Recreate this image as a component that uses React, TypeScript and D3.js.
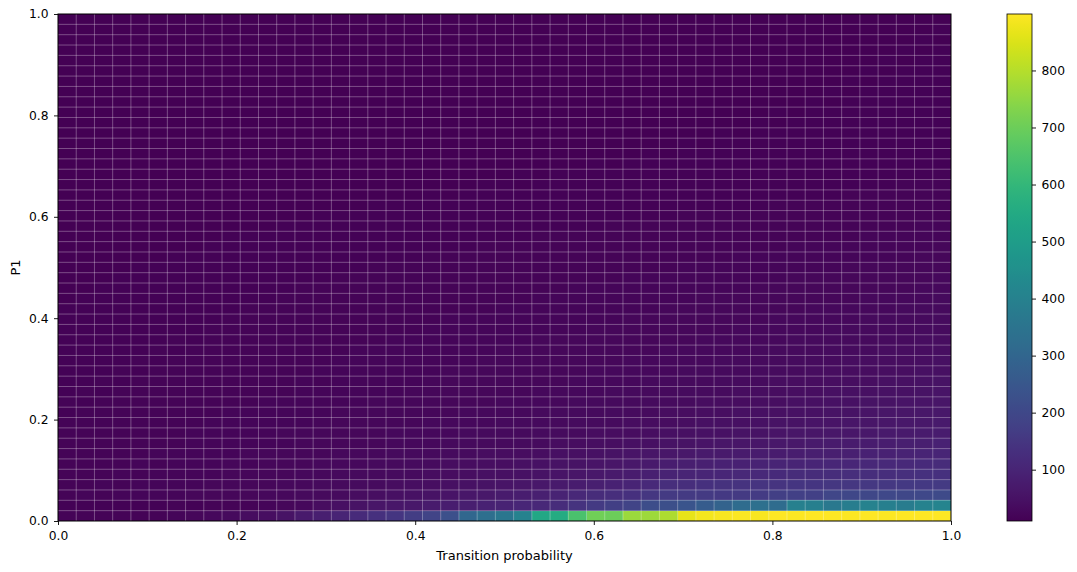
import React, { useRef, useEffect } from "react";
import * as d3 from "d3";

const xTickValues = [0, 0.2, 0.4, 0.6, 0.8, 1.0];
const yTickValues = [0, 0.2, 0.4, 0.6, 0.8, 1.0];
const colorTickValues = [100, 200, 300, 400, 500, 600, 700, 800];
const xLabel = "Transition probability";
const yLabel = "P1";

// counts per bin, 49 x 49 bins; row index 0 = lowest P1 bin
// rows 0-7: where the mass sits
const rowsNearZero = [
  [18,17,19,18,20,19,21,24,28,33, 38,44,55,70,85,100,117,132,148,168, 190,228,305,330,360,402,538,552,645,705, 700,765,770,790,865,885,892,895,890,897, 893,899,896,894,898,895,897,899,898],
  [14,15,14,16,15,16,17,16,18,19, 20,22,25,30,38,45,55,60,64,68, 74,82,86,90,95,106,110,124,140,160, 175,188,215,222,240,265,290,320,335,322, 395,390,365,385,400,390,380,400,410],
  [20,21,20,22,21,23,22,24,25,26, 27,29,30,32,34,36,39,42,45,49, 53,58,63,68,74,80,88,96,108,118, 125,135,150,160,160,162,158,160,165,175, 180,178,195,198,200,202,198,204,208],
  [20,19,21,20,22,21,23,22,24,25, 26,27,28,30,31,33,35,37,39,42, 44,47,50,54,58,62,67,72,78,85, 92,100,112,125,128,132,136,140,142,145, 147,148,150,152,153,155,156,158,160],
  [19,20,19,21,20,22,21,23,22,24, 25,26,27,28,29,31,32,34,35,37, 39,41,43,46,48,51,54,58,62,66, 72,78,88,95,98,102,105,108,112,115, 118,120,122,125,126,128,130,132,134],
  [19,18,20,19,21,20,22,21,23,24, 23,25,26,27,28,29,30,32,33,35, 36,38,40,42,44,46,49,52,55,58, 62,66,72,80,85,88,90,92,95,97, 100,102,105,107,110,112,114,116,118],
  [18,19,19,20,20,21,21,22,22,23, 24,24,25,26,27,28,29,30,31,32, 33,35,36,38,40,41,43,45,48,50, 53,56,60,64,67,70,72,75,77,79, 81,84,86,88,90,93,95,98,102],
  [18,19,18,19,20,19,20,21,21,22, 22,23,23,24,25,25,26,27,28,29, 30,31,32,33,34,36,37,38,40,42, 44,46,48,52,55,57,60,62,64,66, 68,70,73,75,78,80,83,86,90],
];

// rows 8-27
const rowsMiddle = [
  [18,17,18,19,19,20,20,21,22,22, 23,23,24,24,25,26,26,27,28,28, 29,30,31,32,33,34,35,36,37,38, 40,41,43,45,47,49,51,53,55,57, 59,61,63,65,67,70,72,75,78],
  [17,18,17,18,19,18,19,20,21,21, 22,22,23,23,24,25,25,26,26,27, 28,29,29,30,31,32,33,34,35,36, 37,38,40,41,43,45,46,48,50,52, 54,56,58,60,62,64,66,69,72],
  [16,17,18,17,18,19,18,19,20,21, 21,22,22,23,23,24,24,25,25,26, 27,27,28,29,30,30,31,32,33,34, 35,36,37,39,40,42,43,45,46,48, 50,51,53,55,57,59,61,63,66],
  [17,16,17,18,17,18,19,18,19,20, 20,21,21,22,22,23,23,24,24,25, 25,26,27,27,28,29,29,30,31,32, 33,34,35,36,37,38,40,41,43,44, 46,47,49,51,52,54,56,58,61],
  [16,17,16,17,18,17,18,19,18,19, 20,19,20,21,21,22,22,23,23,24, 24,25,25,26,27,27,28,28,29,30, 31,32,33,34,35,36,37,38,39,41, 42,43,45,46,48,49,51,53,56],
  [16,16,17,16,17,18,17,18,19,18, 19,20,20,21,20,21,22,22,23,23, 24,24,25,25,26,26,27,27,28,29, 29,30,31,32,33,34,35,36,37,38, 39,40,42,43,44,46,47,49,52],
  [15,16,16,17,16,17,18,17,18,19, 18,19,20,20,21,21,21,22,22,23, 23,24,24,25,25,26,26,27,27,28, 28,29,30,30,31,32,33,34,35,36, 37,38,39,40,41,43,44,46,48],
  [15,15,16,16,17,16,17,17,18,18, 19,18,19,20,20,21,21,21,22,22, 23,23,23,24,24,25,25,26,26,27, 27,28,28,29,30,30,31,32,33,34, 35,36,37,38,39,40,41,43,45],
  [15,16,15,16,16,17,16,17,18,17, 18,19,19,19,20,20,21,21,21,22, 22,22,23,23,24,24,24,25,25,26, 26,27,27,28,28,29,30,30,31,32, 33,34,35,36,37,38,39,40,42],
  [14,15,15,16,15,16,17,16,17,18, 17,18,18,19,19,20,20,20,21,21, 21,22,22,22,23,23,24,24,24,25, 25,26,26,27,27,28,28,29,30,30, 31,32,33,34,34,35,36,38,39],
  [14,15,14,15,16,15,16,16,17,17, 17,18,18,18,19,19,19,20,20,20, 21,21,21,22,22,22,23,23,23,24, 24,25,25,26,26,27,27,28,28,29, 29,30,31,32,32,33,34,35,37],
  [14,14,15,15,15,16,15,16,16,17, 17,17,18,18,18,19,19,19,20,20, 20,21,21,21,21,22,22,22,23,23, 23,24,24,25,25,26,26,27,27,28, 28,29,29,30,31,31,32,33,35],
  [14,14,14,15,15,15,16,15,16,16, 17,17,17,17,18,18,18,19,19,19, 19,20,20,20,21,21,21,22,22,22, 23,23,23,24,24,25,25,26,26,27, 27,28,28,29,29,30,31,31,33],
  [13,14,14,14,15,15,15,15,16,16, 16,16,17,17,17,18,18,18,18,19, 19,19,20,20,20,20,21,21,21,22, 22,22,23,23,23,24,24,25,25,26, 26,26,27,27,28,28,29,30,31],
  [13,13,14,14,14,15,14,15,15,16, 16,16,16,17,17,17,17,18,18,18, 18,19,19,19,19,20,20,20,21,21, 21,21,22,22,22,23,23,23,24,24, 25,25,26,26,26,27,27,28,29],
  [13,13,13,14,14,14,14,15,15,15, 15,16,16,16,16,17,17,17,17,18, 18,18,18,19,19,19,19,20,20,20, 20,21,21,21,22,22,22,23,23,23, 24,24,24,25,25,26,26,27,28],
  [12,13,13,13,14,14,14,14,15,15, 15,15,15,16,16,16,16,17,17,17, 17,17,18,18,18,18,19,19,19,19, 20,20,20,20,21,21,21,22,22,22, 23,23,23,24,24,24,25,25,26],
  [12,12,13,13,13,13,14,14,14,14, 15,15,15,15,15,16,16,16,16,16, 17,17,17,17,18,18,18,18,18,19, 19,19,19,20,20,20,20,21,21,21, 22,22,22,22,23,23,23,24,25],
  [12,12,12,13,13,13,13,13,14,14, 14,14,14,15,15,15,15,15,16,16, 16,16,16,17,17,17,17,17,18,18, 18,18,18,19,19,19,19,20,20,20, 21,21,21,21,22,22,22,23,24],
  [12,12,12,12,13,13,13,13,13,14, 14,14,14,14,14,15,15,15,15,15, 16,16,16,16,16,16,17,17,17,17, 17,18,18,18,18,18,19,19,19,19, 20,20,20,20,21,21,21,22,22],
];

// rows 28-48
const rowsTop = [
  [11,12,12,12,12,12,13,13,13,13, 13,13,14,14,14,14,14,14,15,15, 15,15,15,15,16,16,16,16,16,16, 17,17,17,17,17,18,18,18,18,18, 19,19,19,19,20,20,20,21,21],
  [11,11,12,12,12,12,12,12,13,13, 13,13,13,13,14,14,14,14,14,14, 14,15,15,15,15,15,15,15,16,16, 16,16,16,16,17,17,17,17,17,17, 18,18,18,18,18,19,19,19,20],
  [11,11,11,12,12,12,12,12,12,12, 13,13,13,13,13,13,13,14,14,14, 14,14,14,14,14,15,15,15,15,15, 15,15,16,16,16,16,16,16,16,17, 17,17,17,17,17,18,18,18,19],
  [11,11,11,11,12,11,12,12,12,12, 12,12,13,13,12,13,13,13,13,13, 14,13,14,14,14,14,14,14,15,14, 15,15,15,15,15,15,16,16,16,16, 16,16,16,17,17,17,17,17,18],
  [11,10,11,11,11,12,11,12,12,12, 12,12,12,12,13,12,13,13,13,13, 13,13,13,14,14,13,14,14,14,14, 14,15,14,15,15,15,15,15,15,16, 15,16,16,16,16,16,17,17,17],
  [10,11,11,11,11,11,11,12,11,12, 12,12,12,12,12,12,13,12,13,13, 13,13,13,13,13,14,13,14,14,14, 14,14,14,14,15,14,15,15,15,15, 15,15,15,16,16,16,16,16,17],
  [10,10,11,11,11,11,11,11,11,12, 11,12,12,12,12,12,12,12,12,13, 12,13,13,13,13,13,13,13,13,14, 13,14,14,14,14,14,14,14,14,15, 14,15,15,15,15,15,15,16,16],
  [10,11,10,11,11,11,11,11,11,11, 12,11,12,12,12,12,12,12,12,12, 12,13,12,13,13,13,13,13,13,13, 13,13,14,13,14,14,14,14,14,14, 14,14,15,14,15,15,15,15,15],
  [10,10,11,10,11,11,11,11,11,11, 11,11,12,11,12,12,12,12,12,12, 12,12,12,13,12,13,13,13,13,13, 13,13,13,13,14,13,14,14,14,14, 14,14,14,14,15,14,15,15,15],
  [10,10,10,11,10,11,11,11,11,11, 11,11,11,12,11,12,12,12,12,12, 12,12,12,12,12,13,12,13,13,13, 13,13,13,13,13,13,14,13,14,14, 14,14,14,14,14,14,15,14,15],
  [10,10,10,10,11,10,11,11,11,11, 11,11,11,11,12,11,12,12,12,12, 12,12,12,12,12,12,12,13,12,13, 13,13,13,13,13,13,13,13,14,13, 14,14,14,14,14,14,14,14,15],
  [10,10,10,10,10,11,10,11,11,11, 11,11,11,11,11,12,11,12,12,12, 12,12,12,12,12,12,12,12,13,12, 13,13,13,13,13,13,13,13,13,14, 13,14,14,14,14,14,14,14,14],
  [10,10,10,10,10,10,11,10,11,11, 11,11,11,11,11,11,12,11,12,12, 12,12,12,12,12,12,12,12,12,13, 12,13,13,13,13,13,13,13,13,13, 13,14,13,14,14,14,14,14,14],
  [10,10,10,10,10,10,10,11,10,11, 11,11,11,11,11,11,11,12,11,12, 12,12,12,12,12,12,12,12,12,12, 13,12,13,13,13,13,13,13,13,13, 13,13,14,13,14,14,14,14,14],
  [10,10,10,10,10,10,10,10,11,10, 11,11,11,11,11,11,11,11,12,11, 12,12,12,12,12,12,12,12,12,12, 12,13,12,13,13,13,13,13,13,13, 13,13,13,14,13,14,14,14,14],
  [10,10,10,10,10,10,10,10,10,11, 10,11,11,11,11,11,11,11,11,12, 11,12,12,12,12,12,12,12,12,12, 12,12,13,12,13,13,13,13,13,13, 13,13,13,13,14,13,14,14,14],
  [10,10,10,10,10,10,10,10,10,10, 11,10,11,11,11,11,11,11,11,11, 12,11,12,12,12,12,12,12,12,12, 12,12,12,13,12,13,13,13,13,13, 13,13,13,13,13,14,13,14,14],
  [10,10,10,10,10,10,10,10,10,10, 10,11,10,11,11,11,11,11,11,11, 11,12,11,12,12,12,12,12,12,12, 12,12,12,12,13,12,13,13,13,13, 13,13,13,13,13,13,14,13,14],
  [10,10,10,10,10,10,10,10,10,10, 10,10,11,10,11,11,11,11,11,11, 11,11,12,11,12,12,12,12,12,12, 12,12,12,12,12,13,12,13,13,13, 13,13,13,13,13,13,13,14,13],
  [10,10,10,10,10,10,10,10,10,10, 10,10,10,11,10,11,11,11,11,11, 11,11,11,12,11,12,12,12,12,12, 12,12,12,12,12,12,13,12,13,13, 13,13,13,13,13,13,13,13,14],
  [10,10,10,10,10,10,10,10,10,10, 10,10,10,10,11,10,11,11,11,11, 11,11,11,11,12,11,12,12,12,12, 12,12,12,12,12,12,12,13,12,13, 13,13,13,13,13,13,13,13,13],
];

const counts: number[][] = [...rowsNearZero, ...rowsMiddle, ...rowsTop];

const width = 1077;
const height = 572;
const plot = { left: 58, right: 951, top: 14, bottom: 521 };
const cbar = { left: 1007, width: 25 };
const font = "DejaVu Sans, sans-serif";
const tickFontSize = 12.3;
const labelFontSize = 13;

const App = () => {
  const svgRef = useRef<SVGSVGElement>(null);

  useEffect(() => {
    drawHeatmap();
  }, []);

  const drawHeatmap = () => {
    const svg = d3.select(svgRef.current);
    svg.selectAll("*").remove();

    const nRows = counts.length;
    const nCols = counts[0].length;

    const x = d3.scaleLinear().domain([0, 1]).range([plot.left, plot.right]);
    const y = d3.scaleLinear().domain([0, 1]).range([plot.bottom, plot.top]);
    const [vmin, vmax] = d3.extent(counts.flat()) as [number, number];
    const color = d3.scaleSequential(d3.interpolateViridis).domain([vmin, vmax]);

    const cells = counts.flatMap((row, r) => row.map((v, c) => ({ r, c, v })));

    // cells
    svg.append("g")
      .selectAll("rect")
      .data(cells)
      .join("rect")
      .attr("x", d => x(d.c / nCols))
      .attr("y", d => y((d.r + 1) / nRows))
      .attr("width", d => x((d.c + 1) / nCols) - x(d.c / nCols))
      .attr("height", d => y(d.r / nRows) - y((d.r + 1) / nRows))
      .attr("fill", d => color(d.v))
      .attr("shape-rendering", "crispEdges");

    // cell edges
    const edges = svg.append("g")
      .attr("stroke", "#fff")
      .attr("stroke-opacity", 0.3)
      .attr("stroke-width", 1);
    edges.selectAll(".vx")
      .data(d3.range(1, nCols))
      .join("line")
      .attr("x1", i => x(i / nCols)).attr("x2", i => x(i / nCols))
      .attr("y1", plot.top).attr("y2", plot.bottom);
    edges.selectAll(".hy")
      .data(d3.range(1, nRows))
      .join("line")
      .attr("y1", i => y(i / nRows)).attr("y2", i => y(i / nRows))
      .attr("x1", plot.left).attr("x2", plot.right);

    // frame
    svg.append("rect")
      .attr("x", plot.left).attr("y", plot.top)
      .attr("width", plot.right - plot.left).attr("height", plot.bottom - plot.top)
      .attr("fill", "none").attr("stroke", "#000").attr("stroke-width", 1);

    const styleAxis = (g) => {
      g.select(".domain").remove();
      g.attr("font-family", font).attr("font-size", tickFontSize);
      g.selectAll("line").attr("stroke", "#000").attr("stroke-width", 0.9);
      g.selectAll("text").attr("fill", "#000");
    };

    const xAxis = d3.axisBottom(x)
      .tickValues(xTickValues)
      .tickFormat(d3.format(".1f"))
      .tickSize(4)
      .tickPadding(6.5);
    svg.append("g")
      .attr("transform", `translate(0, ${plot.bottom})`)
      .call(xAxis)
      .call(styleAxis);

    const yAxis = d3.axisLeft(y)
      .tickValues(yTickValues)
      .tickFormat(d3.format(".1f"))
      .tickSize(4)
      .tickPadding(5.5);
    svg.append("g")
      .attr("transform", `translate(${plot.left}, 0)`)
      .call(yAxis)
      .call(styleAxis);

    // axis titles
    svg.append("text")
      .attr("x", (plot.left + plot.right) / 2)
      .attr("y", 560)
      .attr("text-anchor", "middle")
      .attr("font-family", font).attr("font-size", labelFontSize)
      .text(xLabel);
    svg.append("text")
      .attr("transform", `translate(19.5, ${(plot.top + plot.bottom) / 2}) rotate(-90)`)
      .attr("text-anchor", "middle")
      .attr("font-family", font).attr("font-size", labelFontSize)
      .text(yLabel);

    // colorbar
    const grad = svg.append("defs").append("linearGradient")
      .attr("id", "cbarGrad")
      .attr("x1", 0).attr("y1", 1).attr("x2", 0).attr("y2", 0);
    grad.selectAll("stop")
      .data(d3.range(0, 1.0001, 0.02))
      .join("stop")
      .attr("offset", t => t)
      .attr("stop-color", t => d3.interpolateViridis(t));

    const cScale = d3.scaleLinear().domain([vmin, vmax]).range([plot.bottom, plot.top]);
    svg.append("rect")
      .attr("x", cbar.left).attr("y", plot.top)
      .attr("width", cbar.width).attr("height", plot.bottom - plot.top)
      .attr("fill", "url(#cbarGrad)")
      .attr("stroke", "#000").attr("stroke-width", 0.8);

    const cAxis = d3.axisRight(cScale)
      .tickValues(colorTickValues)
      .tickFormat(d3.format("d"))
      .tickSize(4)
      .tickPadding(5.5);
    svg.append("g")
      .attr("transform", `translate(${cbar.left + cbar.width}, 0)`)
      .call(cAxis)
      .call(styleAxis);
  };

  return (
    <svg
      ref={svgRef}
      width={width}
      height={height}
      style={{ position: "absolute", left: 0, top: 0, background: "#fff" }}
    />
  );
};

export default App;
